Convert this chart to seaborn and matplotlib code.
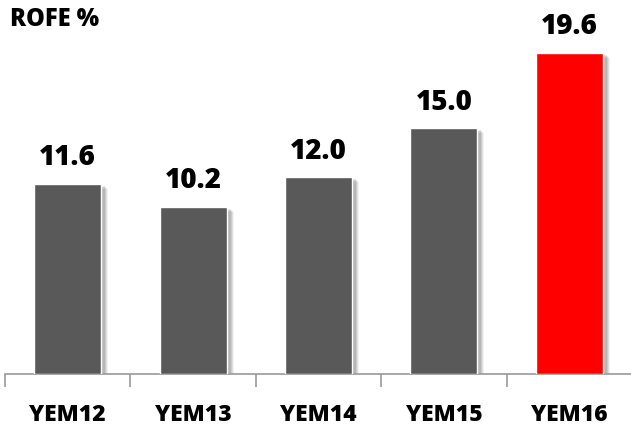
import matplotlib
matplotlib.use("Agg")
import matplotlib.pyplot as plt
import matplotlib.transforms as mtransforms
from matplotlib.patches import Rectangle
import seaborn as sns
import pandas as pd

categories = ["YEM12", "YEM13", "YEM14", "YEM15", "YEM16"]
values = [11.6, 10.2, 12.0, 15.0, 19.6]
colors = ["#595959", "#595959", "#595959", "#595959", "#FF0000"]
title = "ROFE %"

sns.set_theme(style="white")
plt.rcParams["font.family"] = ["Open Sans", "DejaVu Sans"]

df = pd.DataFrame({"cat": categories, "val": values})

W, H = 631, 427
fig = plt.figure(figsize=(W / 100, H / 100), dpi=100)
ymax = 21.0
px_per_unit = 16.4
ax_h = ymax * px_per_unit
bottom_px = 375
ax = fig.add_axes([5 / W, (H - bottom_px) / H, 627 / W, ax_h / H])

sns.barplot(data=df, x="cat", y="val", hue="cat", palette=colors, legend=False,
            width=0.535, saturation=1, ax=ax, zorder=3)

# soft drop shadows
for p in list(ax.patches):
    for dx, dy, a in [(7, -5, 0.05), (6, -4, 0.07), (5, -3, 0.09), (4, -2, 0.10)]:
        off = mtransforms.ScaledTranslation(dx / 100, dy / 100, fig.dpi_scale_trans)
        r = Rectangle(p.get_xy(), p.get_width(), p.get_height(), transform=ax.transData + off,
                      facecolor="black", alpha=a, edgecolor="none", zorder=2)
        ax.add_patch(r)

for i, v in enumerate(values):
    ax.annotate(f"{v:.1f}", (i, v), xytext=(0, 9), textcoords="offset points",
                ha="center", va="bottom", fontsize=20, fontweight="heavy", color="black")

ax.set_xlim(-0.5, len(categories) - 0.5)
ax.set_ylim(0, ymax)
ax.set_xlabel("")
ax.set_ylabel("")
ax.set_yticks([])
for s in ["top", "right", "left"]:
    ax.spines[s].set_visible(False)
ax.spines["bottom"].set_color("#999999")
ax.spines["bottom"].set_linewidth(1.2)
ax.set_xticks([i - 0.5 for i in range(len(categories) + 1)], minor=False)
ax.set_xticklabels([])
ax.tick_params(axis="x", which="major", bottom=True, length=9, width=1.2, color="#999999", direction="out")
ax.set_xticks(range(len(categories)), minor=True)
ax.set_xticklabels(categories, minor=True, fontsize=16.5, fontweight="heavy", color="black")
ax.tick_params(axis="x", which="minor", bottom=False, pad=16)

fig.text(10 / W, 1 - 20 / H, title, ha="left", va="center", fontsize=17, fontweight="heavy", color="black")

fig.savefig("out.png", dpi=100, facecolor="white")
